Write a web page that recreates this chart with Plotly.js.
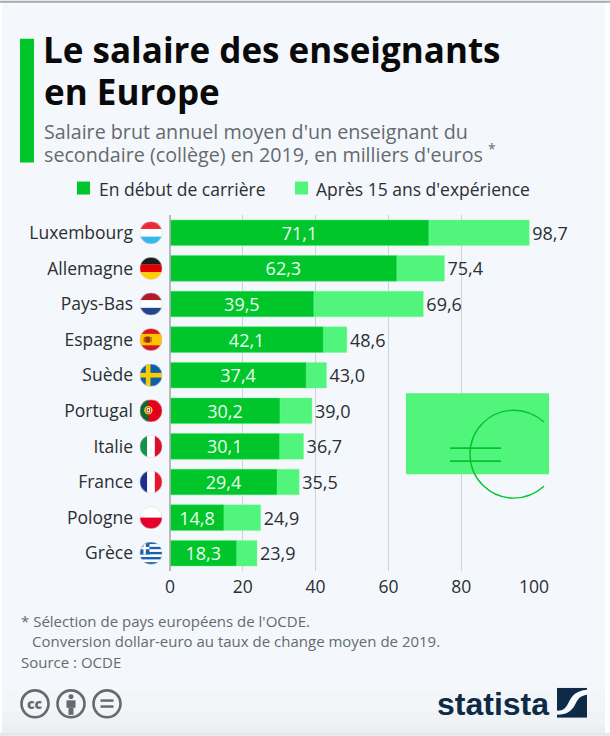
<!DOCTYPE html>
<html>
<head>
<meta charset="utf-8">
<script src="https://cdn.plot.ly/plotly-3.0.1.min.js"></script>
<style>
    html, body { margin: 0; padding: 0; background: #fff; }
    #chart { width: 610px; height: 736px; }
</style>
</head>
<body>
<div id="chart"></div>
<script>
const countries = ['Luxembourg', 'Allemagne', 'Pays-Bas', 'Espagne', 'Suède', 'Portugal', 'Italie', 'France', 'Pologne', 'Grèce'];
const debutCarriere = [71.1, 62.3, 39.5, 42.1, 37.4, 30.2, 30.1, 29.4, 14.8, 18.3];
const apres15Ans = [98.7, 75.4, 69.6, 48.6, 43.0, 39.0, 36.7, 35.5, 24.9, 23.9];
const xTicks = [0, 20, 40, 60, 80, 100];

const W = 610, H = 736;
const plot = { l: 170, r: 534, t: 214.5, b: 571 };
const plotW = plot.r - plot.l, plotH = plot.b - plot.t;
const FONT = '"Open Sans", "Noto Sans", sans-serif';
const DARK = '#00c52b', LIGHT = '#52f57c', GREY = '#666a6e', TEXT = '#2b2f33', NAVY = '#0f2a47';

// pixel to paper helpers, paper is the plot area
const px = x => (x - plot.l) / plotW;
const py = y => (plot.b - y) / plotH;
const fmt = v => v.toFixed(1).replace('.', ',');

function rect(x0, y0, x1, y1, fill, layer) {
    return { type: 'rect', xref: 'paper', yref: 'paper', x0: px(x0), x1: px(x1), y0: py(y0), y1: py(y1),
        fillcolor: fill, line: { width: 0 }, layer: layer || 'above' };
}
function ring(cx, cy, r, color, width) {
    return { type: 'circle', xref: 'paper', yref: 'paper', x0: px(cx - r), x1: px(cx + r), y0: py(cy + r), y1: py(cy - r),
        fillcolor: 'rgba(0,0,0,0)', line: { color: color, width: width } };
}
function line(x0, y0, x1, y1, color, width) {
    return { type: 'line', xref: 'paper', yref: 'paper', x0: px(x0), x1: px(x1), y0: py(y0), y1: py(y1),
        line: { color: color, width: width } };
}
function note(x, y, text, size, color, anchor, extra) {
    return Object.assign({ xref: 'paper', yref: 'paper', x: px(x), y: py(y), text: text, showarrow: false,
        xanchor: anchor || 'left', yanchor: 'middle', align: 'left', xshift: -1,
        font: { family: FONT, size: size, color: color } }, extra || {});
}

// euro sign on the note: arc drawn as a few bezier segments
function euroArc(cx, cy, r) {
    const k = 0.5523 * r;
    const p = (x, y) => px(x) + ',' + py(y);
    const a = 0.82, sx = cx + r * Math.cos(a), sy = r * Math.sin(a);
    return 'M' + p(sx, cy - sy) +
        ' Q' + p(cx + r * 0.38, cy - r * 1.0) + ' ' + p(cx, cy - r) +
        ' C' + p(cx - k, cy - r) + ' ' + p(cx - r, cy - k) + ' ' + p(cx - r, cy) +
        ' C' + p(cx - r, cy + k) + ' ' + p(cx - k, cy + r) + ' ' + p(cx, cy + r) +
        ' Q' + p(cx + r * 0.38, cy + r * 1.0) + ' ' + p(sx, cy + sy);
}

// round flags
function flagBody(name) {
    const bands = (c, vertical) => c.map((col, i) => vertical
        ? `<rect x="${i * 44 / c.length}" y="0" width="${44 / c.length + .2}" height="44" fill="${col}"/>`
        : `<rect x="0" y="${i * 44 / c.length}" width="44" height="${44 / c.length + .2}" fill="${col}"/>`).join('');
    switch (name) {
        case 'Luxembourg': return bands(['#ed2939', '#ffffff', '#38b6ef']);
        case 'Allemagne': return bands(['#1a1a1a', '#e30000', '#ffce00']);
        case 'Pays-Bas': return bands(['#b01c2e', '#ffffff', '#21468b']);
        case 'Espagne': return '<rect width="44" height="44" fill="#d8141e"/><rect y="11" width="44" height="22" fill="#fcc200"/>' +
            '<rect x="11" y="16" width="9" height="12" rx="2" fill="#a0261a"/><rect x="8" y="17" width="2" height="10" fill="#6b4a1a"/><rect x="21" y="17" width="2" height="10" fill="#6b4a1a"/>';
        case 'Suède': return '<rect width="44" height="44" fill="#0a5fa8"/><rect x="12" width="9" height="44" fill="#fecb00"/><rect y="17.5" width="44" height="9" fill="#fecb00"/>';
        case 'Portugal': return '<rect width="44" height="44" fill="#e2001a"/><rect width="17" height="44" fill="#0b6a34"/>' +
            '<circle cx="17" cy="21" r="8" fill="#f6d21c"/><rect x="13" y="16" width="8" height="10" rx="2" fill="#ffffff" stroke="#c8102e" stroke-width="1.5"/><rect x="15.5" y="19" width="3" height="4" fill="#1d4b9b"/>';
        case 'Italie': return bands(['#159447', '#ffffff', '#d90f2e'], true);
        case 'France': return bands(['#1c2f8f', '#ffffff', '#e8152c'], true);
        case 'Pologne': return bands(['#ffffff', '#e4002b']);
        case 'Grèce': return bands(['#1a5fb0', '#fff', '#1a5fb0', '#fff', '#1a5fb0', '#fff', '#1a5fb0', '#fff', '#1a5fb0']) +
            '<rect width="19" height="24.4" fill="#1a5fb0"/><rect x="7.5" width="4.5" height="24.4" fill="#fff"/><rect y="10" width="19" height="4.5" fill="#fff"/>';
    }
    return '';
}
function flagImage(name) {
    const svg = `<svg xmlns="http://www.w3.org/2000/svg" width="88" height="88" viewBox="0 0 44 44"><defs><clipPath id="c"><circle cx="22" cy="22" r="21.5"/></clipPath></defs><g clip-path="url(#c)">${flagBody(name)}</g><circle cx="22" cy="22" r="21.3" fill="none" stroke="#d5d8dc" stroke-width="1"/></svg>`;
    return 'data:image/svg+xml;charset=utf-8,' + encodeURIComponent(svg);
}
const rowH = plotH / countries.length;
const flagImages = countries.map((c, i) => ({
    source: flagImage(c), xref: 'paper', yref: 'paper',
    x: px(151), y: py(plot.t + rowH * (i + 0.5)),
    sizex: 23 / plotW, sizey: 23 / plotH, xanchor: 'center', yanchor: 'middle', sizing: 'contain', layer: 'above'
}));

const logoSvg = `<svg xmlns="http://www.w3.org/2000/svg" width="120" height="120" viewBox="0 0 30 30"><rect width="30" height="30" fill="${NAVY}"/><path d="M0 23 C7 23 9 20 12 14 C15 8 19 3 30 2 L30 7 C23 8 21 11 18 17 C15 23 10 27 0 27 Z" fill="#f5f9fc"/></svg>`;
const logoImage = {
    source: 'data:image/svg+xml;charset=utf-8,' + encodeURIComponent(logoSvg), xref: 'paper', yref: 'paper',
    x: px(557), y: py(688), sizex: 30 / plotW, sizey: 30 / plotH, xanchor: 'left', yanchor: 'top', sizing: 'stretch', layer: 'above'
};

const barEdge = { color: 'rgba(120,250,160,0.6)', width: 0.6 };
const traces = [
    {
        type: 'bar', orientation: 'h', name: "Après 15 ans d'expérience",
        y: countries, x: apres15Ans, marker: { color: LIGHT, line: barEdge }, width: 0.72,
        text: apres15Ans.map(fmt), textposition: 'outside', cliponaxis: false, textangle: 0, constraintext: 'none',
        outsidetextfont: { family: FONT, size: 18, color: TEXT }, hoverinfo: 'y+x'
    },
    {
        type: 'bar', orientation: 'h', name: 'En début de carrière',
        y: countries, x: debutCarriere, marker: { color: DARK, line: barEdge }, width: 0.72,
        text: debutCarriere.map(fmt), textposition: 'inside', insidetextanchor: 'middle', textangle: 0, constraintext: 'none',
        insidetextfont: { family: FONT, size: 18, color: '#eafff0' }, hoverinfo: 'y+x'
    }
];

const layout = {
    width: W, height: H,
    paper_bgcolor: '#ffffff', plot_bgcolor: 'rgba(0,0,0,0)',
    showlegend: false, barmode: 'overlay',
    margin: { l: plot.l, r: W - plot.r, t: plot.t, b: H - plot.b, pad: 0 },
    font: { family: FONT, color: TEXT },
    // second title line is a note so the line spacing can match
    title: {
        text: 'Le salaire des enseignants',
        x: 43 / W, xref: 'container', xanchor: 'left',
        y: 1 - 51 / H, yref: 'container', yanchor: 'middle',
        font: { family: FONT, size: 35, weight: 700, color: '#0a0a0a' }
    },
    xaxis: {
        range: [0, 100], tickvals: xTicks, ticktext: xTicks.map(String), ticks: '', zeroline: false,
        showgrid: true, gridcolor: '#cfd3d7', gridwidth: 1.2, showline: false,
        tickfont: { family: FONT, size: 17.5, color: TEXT }, ticklabelstandoff: 3, fixedrange: true
    },
    yaxis: {
        type: 'category', categoryorder: 'array', categoryarray: countries, autorange: 'reversed',
        showgrid: false, zeroline: false, showline: false, ticks: '', ticklabelstandoff: 36,
        tickfont: { family: FONT, size: 17.5, color: TEXT }, fixedrange: true
    },
    images: flagImages.concat([logoImage]),
    shapes: [
        // page background, window edge and the fade at the bottom
        rect(2, 0, 605, 733, '#f4f8fc', 'below'),
        rect(2, 690, 605, 712, '#f2f6f9', 'below'),
        rect(2, 712, 605, 725, '#f0f3f6', 'below'),
        rect(2, 725, 605, 733, '#eceff1', 'below'),
        rect(0, 733, 610, 736, '#e4e6e8', 'below'),
        rect(0, 0, 610, 2, '#a9a9ab', 'below'),
        rect(20, 38, 34, 162, DARK),
        rect(77, 181, 90, 194, DARK),
        rect(295, 181, 308, 194, LIGHT),
        line(170, 214.5, 170, 571, '#a8abaf', 1.6),
        // banknote and euro decoration
        rect(406, 393, 549, 474, LIGHT),
        { type: 'path', xref: 'paper', yref: 'paper', path: euroArc(514, 454, 44), line: { color: DARK, width: 1.4 }, fillcolor: 'rgba(0,0,0,0)' },
        line(450, 448, 501, 448, DARK, 1.8),
        line(450, 461, 501, 461, DARK, 1.8),
        // licence icons
        ring(35, 704, 13.5, GREY, 2.6),
        ring(71, 704, 13.5, GREY, 2.6),
        ring(107, 704, 13.5, GREY, 2.6),
        { type: 'circle', xref: 'paper', yref: 'paper', x0: px(68.5), x1: px(73.5), y0: py(699.5), y1: py(694.5), fillcolor: GREY, line: { width: 0 } },
        rect(66.5, 700.5, 75.5, 708, GREY),
        rect(68.5, 708, 73.5, 715, GREY),
        rect(100.5, 699.5, 113.5, 702, GREY),
        rect(100.5, 705.5, 113.5, 708, GREY)
    ],
    annotations: [
        note(43, 91, 'en Europe', 35, '#0a0a0a', 'left', { font: { family: FONT, size: 35, weight: 700, color: '#0a0a0a' } }),
        note(43, 130.5, "Salaire brut annuel moyen d'un enseignant du", 19.7, GREY),
        note(43, 153, "secondaire (collège) en 2019, en milliers d'euros <sup>*</sup>", 19.7, GREY),
        note(98, 188, 'En début de carrière', 17.5, TEXT),
        note(315, 188, "Après 15 ans d'expérience", 17.5, TEXT),
        note(20, 621, "* Sélection de pays européens de l'OCDE.", 15, GREY),
        note(31, 641, 'Conversion dollar-euro au taux de change moyen de 2019.', 15, GREY),
        note(20, 662, 'Source : OCDE', 15, GREY),
        note(35, 703.5, 'cc', 14, GREY, 'center', { xshift: 0, font: { family: FONT, size: 14, weight: 800, color: GREY } }),
        note(436, 704, 'statista', 32, NAVY, 'left', { font: { family: '"Liberation Sans Narrow", "Liberation Sans", sans-serif', size: 32, weight: 700, color: NAVY } })
    ]
};

Plotly.newPlot('chart', traces, layout, { displayModeBar: false, responsive: false });
</script>
</body>
</html>
